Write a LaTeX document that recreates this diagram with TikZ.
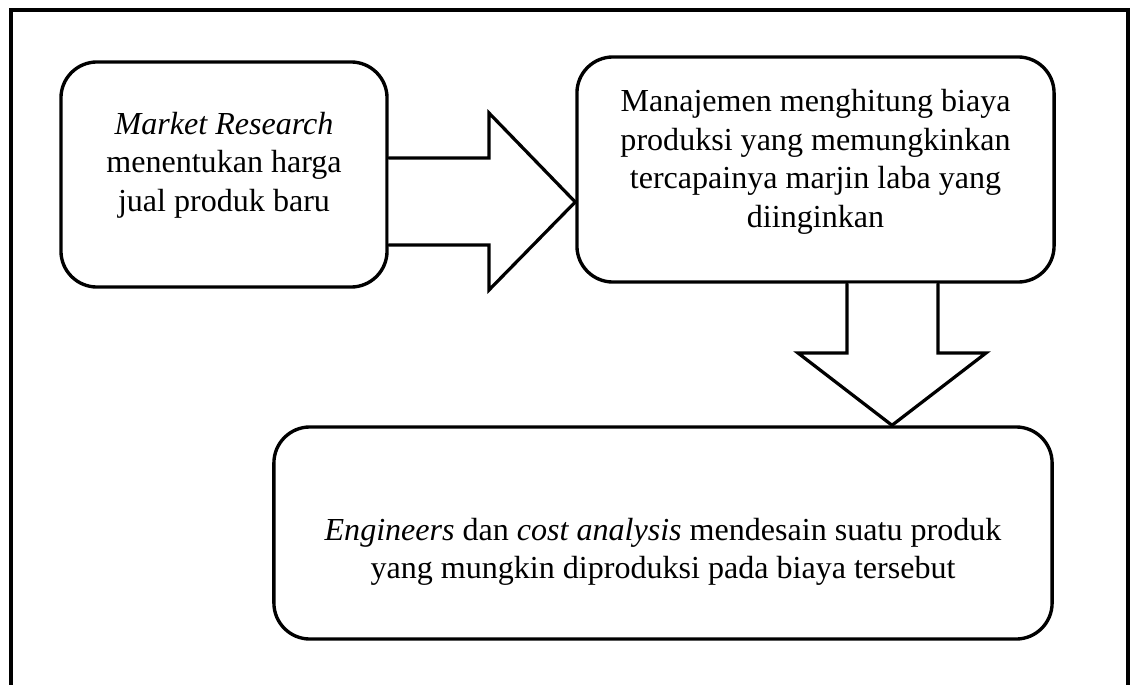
\documentclass[tikz,border=0pt]{standalone}
\usepackage{fontspec}
\setmainfont{Liberation Serif}
\usetikzlibrary{positioning}

\tikzset{
  stepbox/.style={draw, line width=2.4pt, rounded corners=0.9cm, inner sep=0pt},
  steptext/.style={align=center, inner sep=0pt, font=\fontsize{22.8}{27.4}\selectfont},
  blockarrow/.style={draw, line width=2.3pt, line join=miter, fill=white}
}

\begin{document}
\begin{tikzpicture}[x=0.025cm, y=-0.025cm, line cap=round]
			% Page bounds in pixels of the reference
			\useasboundingbox (0,0) rectangle (1131,684);
			\clip (0,0) rectangle (1131,684);
			
			% Outer frame, open at the bottom
			\draw[line width=2.2pt, line join=miter] (11,720) -- (11,10) -- (1128,10) -- (1128,720);
			
			% The three steps
			\node[stepbox, minimum width=8.15cm, minimum height=5.625cm] (research) at (224,174.5) {};
			\node[stepbox, minimum width=11.925cm, minimum height=5.625cm] (mgmt) at (815.5,169.5) {};
			\node[stepbox, minimum width=19.45cm, minimum height=5.3cm] (design) at (663,533) {};
			
			\node[steptext] (researchtext) at (224,165) {\textit{Market Research}\\menentukan harga\\jual produk baru};
			\node[steptext] (mgmttext) at (815.5,162) {Manajemen menghitung biaya\\produksi yang memungkinkan\\tercapainya marjin laba yang\\diinginkan};
			\node[steptext] (designtext) at (663,552) {\textit{Engineers} dan \textit{cost analysis} mendesain suatu produk\\yang mungkin diproduksi pada biaya tersebut};
			
			% Block arrow from research to management
			\coordinate (rA) at (research.east |- 0,158);
			\coordinate (rB) at (research.east |- 0,245);
			\coordinate (rTip) at (mgmt.west |- 0,202);
			\draw[blockarrow] (rA) -- (489,158) -- (489,113) -- (rTip) -- (489,290) -- (489,245) -- (rB);
			
			% Block arrow from management down to design
			\coordinate (dA) at (847,0 |- mgmt.south);
			\coordinate (dB) at (938,0 |- mgmt.south);
			\coordinate (dTip) at (892,0 |- design.north);
			\draw[blockarrow] (dA) -- (847,353) -- (798,353) -- (dTip) -- (986,353) -- (938,353) -- (dB);
		\end{tikzpicture}
\end{document}
